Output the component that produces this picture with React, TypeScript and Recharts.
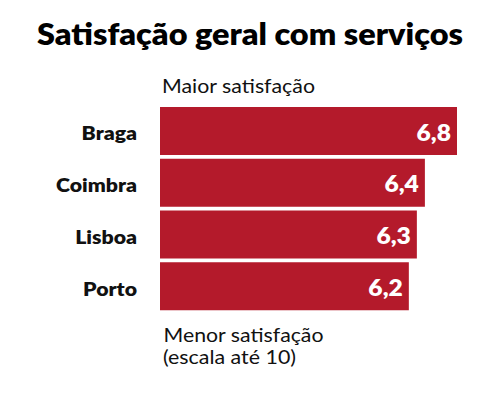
import { BarChart, Bar, XAxis, YAxis, LabelList } from 'recharts';

const categories = ['Braga', 'Coimbra', 'Lisboa', 'Porto'];
const values = [6.8, 6.4, 6.3, 6.2];

const RED = '#B41A2B';
const FONT = 'Lato, "Open Sans", sans-serif';
// the reference glyphs look a bit wider than plain Lato
const STRETCH = 1.09;

const chartData = categories.map((city, i) => ({ city, value: values[i] }));

const CityTick = (props: any) => {
  const { x, y, payload } = props;
  return (
    <text
      transform={`translate(${x},${y + 9.5}) scale(${STRETCH},1)`}
      textAnchor="end"
      fontFamily={FONT}
      fontWeight={800}
      fontSize={19.5}
      fill="#111"
    >
      {payload.value}
    </text>
  );
};

const ValueLabel = (props: any) => {
  const { x, y, width, height, value } = props;
  return (
    <text
      transform={`translate(${x + width - 6},${y + height / 2 + 9.7}) scale(1.12,1)`}
      textAnchor="end"
      fontFamily={FONT}
      fontWeight={800}
      fontSize={22}
      fill="#fff"
    >
      {Number(value).toFixed(1).replace('.', ',')}
    </text>
  );
};

export default function App() {
  return (
    <div style={{ position: 'absolute', left: 0, top: 0, width: 500, height: 401, background: '#fff' }}>
      <BarChart
        width={500}
        height={401}
        data={chartData}
        layout="vertical"
        margin={{ top: 105, right: 43, bottom: 89, left: 0 }}
      >
        <XAxis type="number" domain={[3.1, 6.8]} hide />
        <YAxis
          type="category"
          dataKey="city"
          width={160}
          axisLine={false}
          tickLine={false}
          tickMargin={17}
          tick={<CityTick />}
        />
        <Bar dataKey="value" fill={RED} barSize={48} isAnimationActive={false}>
          <LabelList dataKey="value" content={<ValueLabel />} />
        </Bar>
      </BarChart>
      <svg width={500} height={401} style={{ position: 'absolute', left: 0, top: 0, pointerEvents: 'none' }}>
        <text
          x={37}
          y={45}
          textLength={426}
          lengthAdjust="spacingAndGlyphs"
          fontFamily={FONT}
          fontWeight={800}
          fontSize={30.5}
          fill="#000"
        >
          Satisfação geral com serviços
        </text>
        <text x={162} y={92.8} textLength={153} lengthAdjust="spacingAndGlyphs" fontFamily={FONT} fontSize={18.7} fill="#111">
          Maior satisfação
        </text>
        <text x={163.5} y={341.7} textLength={160} lengthAdjust="spacingAndGlyphs" fontFamily={FONT} fontSize={18.7} fill="#111">
          Menor satisfação
        </text>
        <text x={163} y={363.5} textLength={133} lengthAdjust="spacingAndGlyphs" fontFamily={FONT} fontSize={18.7} fill="#111">
          (escala até 10)
        </text>
      </svg>
    </div>
  );
}
